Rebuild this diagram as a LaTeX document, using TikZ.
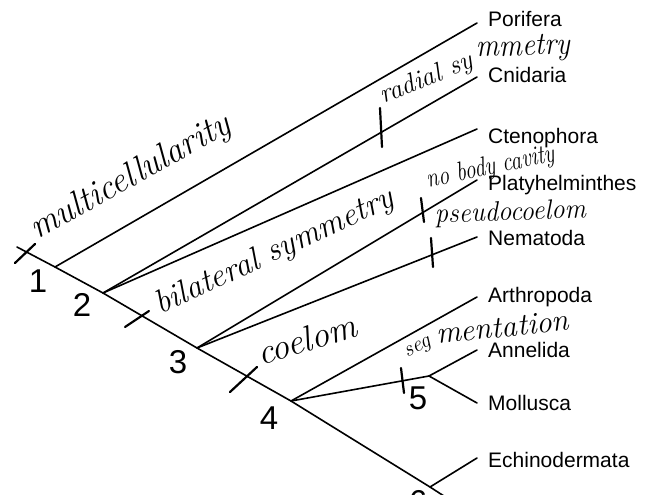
\documentclass[tikz,border=0pt]{standalone}
\usepackage{fontspec}
\newfontfamily\labfont{Liberation Sans}
\begin{document}
\begin{tikzpicture}[x=1pt,y=-1pt,
  branch/.style={line width=1.6pt, line cap=round},
  tickmark/.style={line width=2.2pt, line cap=round},
  taxon/.style={anchor=base west, inner sep=0pt, font=\labfont\fontsize{21}{21}\selectfont},
  num/.style={inner sep=0pt, font=\labfont\fontsize{33}{33}\selectfont},
  hand/.style={anchor=base west, inner sep=0pt, font=\itshape\fontsize{#1}{#1}\selectfont}]
\useasboundingbox (0,0) rectangle (653,495);
\fill[white] (0,0) rectangle (653,495);
% trunk points
\coordinate (s) at (17,247);
\coordinate (n1) at (55,267);
\coordinate (n2) at (103,293);
\coordinate (n3) at (197,348);
\coordinate (n4) at (291,401);
\coordinate (n5) at (429,376);
\coordinate (n6) at (430,487);
\coordinate (e) at (447,498);
% branch ends
\coordinate (tPor) at (477,23);
\coordinate (tCni) at (477,77);
\coordinate (tCte) at (477,129);
\coordinate (tPla) at (477,180);
\coordinate (tNem) at (477,237);
\coordinate (tArt) at (477,297);
\coordinate (tAnn) at (477,350);
\coordinate (tMol) at (477,403);
\coordinate (tEch) at (477,458);
% connectors
\draw[branch] (s) -- (n1) -- (n2) -- (n3) -- (n4) -- (n6) -- (e);
\draw[branch] (n1) -- (tPor);
\draw[branch] (n2) -- (tCni);
\draw[branch] (n2) -- (tCte);
\draw[branch] (n3) -- (tPla);
\draw[branch] (n3) -- (tNem);
\draw[branch] (n4) -- (tArt);
\draw[branch] (n4) -- (n5);
\draw[branch] (n5) -- (tAnn);
\draw[branch] (n5) -- (tMol);
\draw[branch] (n6) -- (tEch);
% taxa
\node[taxon] (Por) at (488,27) {Porifera};
\node[taxon] (Cni) at (488,82) {Cnidaria};
\node[taxon] (Cte) at (488,143) {Ctenophora};
\node[taxon] (Pla) at (488,190) {Platyhelminthes};
\node[taxon] (Nem) at (488,245) {Nematoda};
\node[taxon] (Art) at (488,302) {Arthropoda};
\node[taxon] (Ann) at (488,357) {Annelida};
\node[taxon] (Mol) at (488,410) {Mollusca};
\node[taxon] (Ech) at (488,467) {Echinodermata};
% node numbers
\node[num] (L1) at (38,281) {1};
\node[num] (L2) at (82,305) {2};
\node[num] (L3) at (178,362) {3};
\node[num] (L4) at (269,418) {4};
\node[num] (L5) at (418,398) {5};
\node[num] (L6) at (418,502) {6};
% tick marks
\coordinate (ka1) at (15,263); \coordinate (ka2) at (35,244);
\coordinate (kb1) at (125,327); \coordinate (kb2) at (149,311);
\coordinate (kc1) at (230,392); \coordinate (kc2) at (257,367);
\coordinate (kd1) at (380,108); \coordinate (kd2) at (382,147);
\coordinate (ke1) at (421,198); \coordinate (ke2) at (424,222);
\coordinate (kf1) at (431,238); \coordinate (kf2) at (433,267);
\coordinate (kg1) at (401,368); \coordinate (kg2) at (404,393);
\draw[tickmark] (ka1) -- (ka2);
\draw[tickmark] (kb1) -- (kb2);
\draw[tickmark] (kc1) -- (kc2);
\draw[tickmark] (kd1) -- (kd2);
\draw[tickmark] (ke1) -- (ke2);
\draw[tickmark] (kf1) -- (kf2);
\draw[tickmark] (kg1) -- (kg2);
% handwritten characters
\node[hand=36, rotate=29] (hMul) at (37,240) {\scalebox{0.97}[1]{multicellularity}};
\node[hand=27, rotate=22] (hRad) at (383,104) {radial sy};
\node[hand=32, rotate=2] (hRad2) at (476,57) {\scalebox{0.9}[1]{mmetry}};
\node[hand=33, rotate=25] (hBil) at (160,315) {bilateral symmetry};
\node[hand=27, rotate=12] (hNob) at (428,188) {\scalebox{0.8}[1]{no body cavity}};
\node[hand=28, rotate=2] (hPse) at (435,223) {\scalebox{0.95}[1]{pseudocoelom}};
\node[hand=36, rotate=17] (hCoe) at (261,366) {coelom};
\node[hand=22, rotate=27] (hSeg) at (407,358) {seg};
\node[hand=31, rotate=6] (hSeg2) at (437,344) {mentation};
\end{tikzpicture}
\end{document}
